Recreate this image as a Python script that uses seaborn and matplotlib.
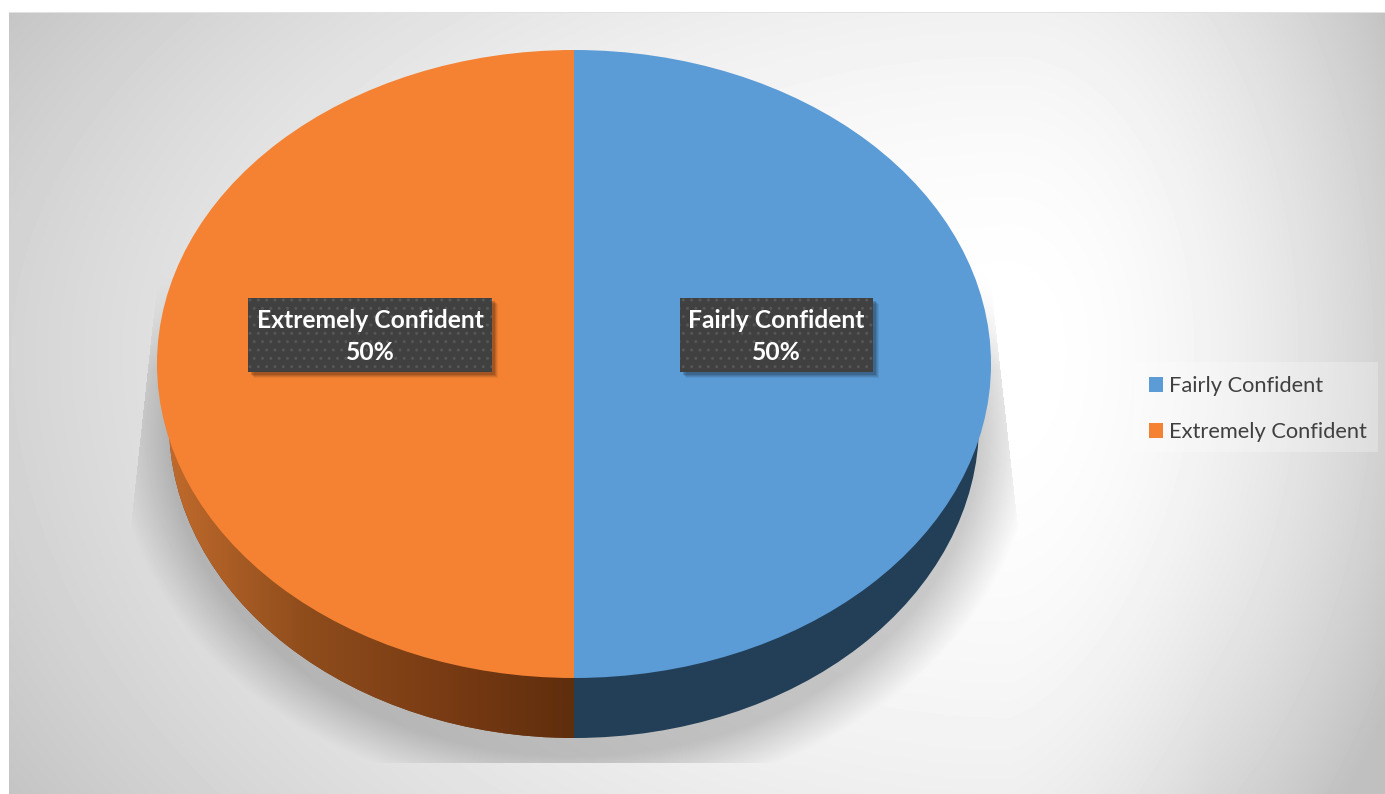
import numpy as np
import matplotlib
matplotlib.use("Agg")
import matplotlib.pyplot as plt
import seaborn as sns
from matplotlib.patches import Rectangle
from matplotlib.colors import LinearSegmentedColormap

# Data
labels = ["Fairly Confident", "Extremely Confident"]
shares = [50, 50]

W, H = 1385, 794
top_colors = ["#5B9BD6", "#F48232"]
wall_colors = ["#223F57", "#7A3C14"]

sns.set_theme(style="white")
plt.rcParams["font.family"] = ["Lato", "DejaVu Sans"]
plt.rcParams["hatch.linewidth"] = 1.0


def pixel_axes(x0, y0, x1, y1, z):
    ax = fig.add_axes([x0 / W, 1 - y1 / H, (x1 - x0) / W, (y1 - y0) / H], zorder=z)
    return ax


def background():
    yy, xx = np.mgrid[0:H, 0:W]
    dx = xx - 1010.0
    dy = yy - 350.0
    sx = np.where(dx < 0, 1100.0, 400.0)
    # lower part gets darker faster on the right hand side
    blend = np.clip(dx / 200.0, 0, 1)
    sy = np.where(dy < 0, 640.0, 800.0 - 180.0 * blend)
    d2 = (dx / sx) ** 2 + (dy / sy) ** 2
    img = 255 - np.clip(52 * d2, 0, 63)

    # soft shadow under the pie, cut off like the original picture
    ds = np.sqrt(((xx - 574) / 461.0) ** 2 + ((yy - 430) / 370.0) ** 2)
    dark = 0.2 * np.clip((1.0 - ds) / 0.12, 0, 1)
    dark = dark * np.clip((yy - 270) / 100.0, 0, 1)
    left = 157 - (yy - 280) * 27 / 250.0
    right = 990 + (yy - 280) * 28 / 250.0
    dark = np.where((yy > 762) | (xx < left) | (xx > right), 0, dark)
    img = img * (1 - dark)

    img[:12, :] = 255
    img[:, :9] = 255
    img[12, 9:] = 225
    return img


fig = plt.figure(figsize=(W / 100, H / 100), dpi=100, facecolor="white")

# picture background
bg = pixel_axes(0, 0, W, H, 0)
bg.imshow(background(), cmap="gray", vmin=0, vmax=255, aspect="auto", extent=(0, W, H, 0), interpolation="bilinear")
bg.axis("off")

# pie wall: same pie, lower and slightly narrower
wall = pixel_axes(169, 110, 979, 738, 1)
wall_wedges, _ = wall.pie(shares, colors=wall_colors, startangle=90, counterclock=False, radius=1,
                          wedgeprops={"linewidth": 0})
wall.set_aspect("auto")
shade = LinearSegmentedColormap.from_list("wall", ["#C06A2C", "#8F4D1C", "#7A3C14", "#5F2E0D"])
grad = wall.imshow(np.linspace(0, 1, 256).reshape(1, -1), cmap=shade, extent=(-1, 0, -1, 1), aspect="auto", zorder=3)
grad.set_clip_path(wall_wedges[1])
wall.set_xlim(-1, 1)
wall.set_ylim(-1, 1)

# pie top
top = pixel_axes(157, 50, 991, 678, 2)
wedges, _ = top.pie(shares, colors=top_colors, startangle=90, counterclock=False, radius=1,
                    wedgeprops={"linewidth": 0})
top.set_aspect("auto")
top.set_xlim(-1, 1)
top.set_ylim(-1, 1)

# labels and legend
over = pixel_axes(0, 0, W, H, 3)
over.set_xlim(0, W)
over.set_ylim(H, 0)
over.axis("off")

boxes = [(680, 298, 193, 74), (248, 298, 244, 74)]
for (x, y, w, h), label, share in zip(boxes, labels, shares):
    for off, a in [(6, 0.06), (5, 0.08), (4, 0.1), (3, 0.14)]:
        over.add_patch(Rectangle((x + off, y + off), w, h, facecolor="black", alpha=a, linewidth=0))
    over.add_patch(Rectangle((x, y), w, h, facecolor="#404040", edgecolor="#565656", hatch="..", linewidth=0))
    over.text(x + w / 2, y + 23, label, color="white", fontsize=17.7, fontweight="bold", ha="center", va="center")
    over.text(x + w / 2, y + 54, f"{share}%", color="white", fontsize=17.7, fontweight="bold", ha="center", va="center")

over.add_patch(Rectangle((1134, 362), 244, 90, facecolor="white", alpha=0.25, linewidth=0))
leg = over.legend(wedges, labels, loc="upper left", bbox_to_anchor=(1149 / W, 1 - 376 / H),
                  bbox_transform=fig.transFigure, fontsize=15.75, labelcolor="#404040",
                  frameon=False, handlelength=0.64, handleheight=0.64, handletextpad=0.27,
                  labelspacing=1.2, borderpad=0, borderaxespad=0)

fig.savefig("out.png", dpi=100)
